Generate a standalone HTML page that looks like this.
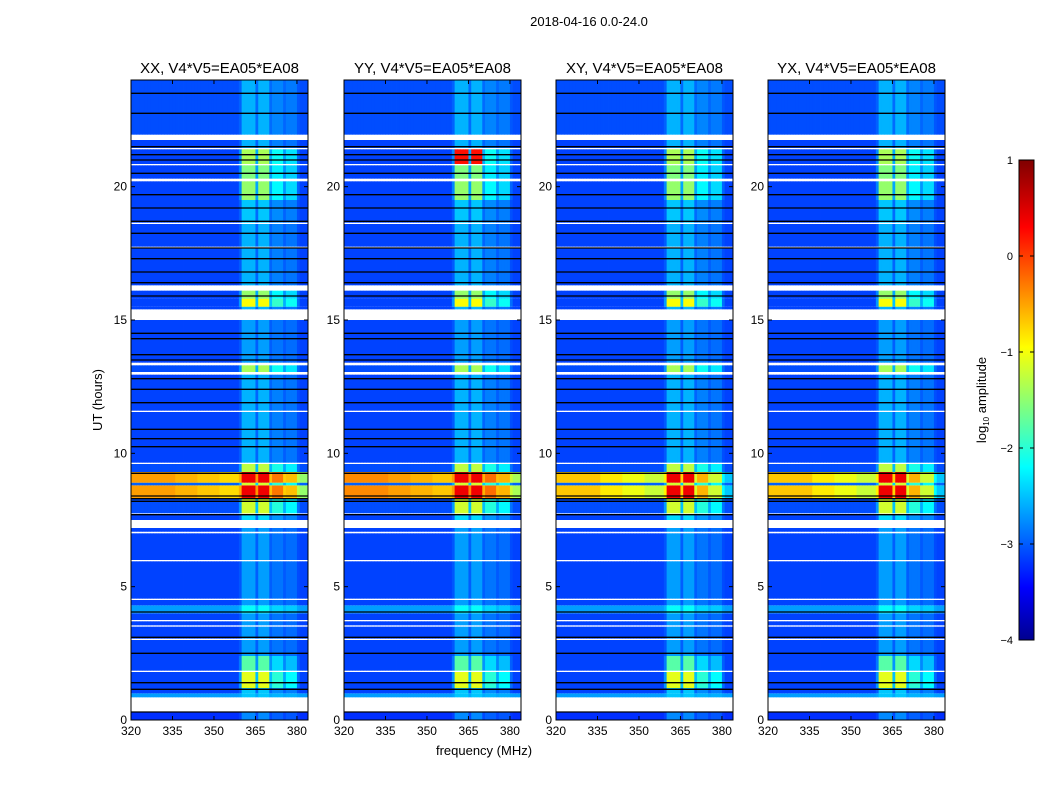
<!DOCTYPE html>
<html><head><meta charset="utf-8"><style>
body{margin:0;background:#fff;}
svg{display:block;font-family:"Liberation Sans",sans-serif;}
</style></head><body>
<svg id="fig" width="1050" height="800" viewBox="0 0 1050 800">
<defs>
<linearGradient id="jetg" x1="0" y1="1" x2="0" y2="0">
<stop offset="0" stop-color="#00008f"/><stop offset="0.11" stop-color="#0000ff"/>
<stop offset="0.36" stop-color="#00ffff"/><stop offset="0.61" stop-color="#ffff00"/>
<stop offset="0.86" stop-color="#ff0000"/><stop offset="1" stop-color="#800000"/>
</linearGradient>
</defs>
<rect width="1050" height="800" fill="#fff"/>
<text x="589" y="26" text-anchor="middle" font-size="13">2018-04-16 0.0-24.0</text>
<text x="484" y="755" text-anchor="middle" font-size="13">frequency (MHz)</text>
<text transform="translate(102,400) rotate(-90)" text-anchor="middle" font-size="13">UT (hours)</text>
<g id="panels"></g>
<g>
<rect x="1019" y="160" width="15" height="480" fill="url(#jetg)" stroke="#000" stroke-width="1"/>
<g id="cbticks"></g>
<text transform="translate(986,400) rotate(-90)" text-anchor="middle" font-size="13">log<tspan font-size="8" dy="3">10</tspan><tspan dy="-3"> amplitude</tspan></text>
</g>
</svg>
<script>
// ---- data ----
const panelTitles = ["XX, V4*V5=EA05*EA08","YY, V4*V5=EA05*EA08","XY, V4*V5=EA05*EA08","YX, V4*V5=EA05*EA08"];
const panelLefts = [131,344,556,768];
const xTicks = [320,335,350,365,380];
const yTicks = [0,5,10,15,20];
const cbTicks = [1,0,-1,-2,-3,-4];
// channel band weight, 1 MHz channels 320..383
const chanWeight = [0,0,0,0,0,0,0,0,0,0,0,0,0,0,0,0,0,0,0,0,
  0,0,0,0,0,0,0,0,0,0,0,0,0,0,0,0,0,0,0,0.2,
  1,1,1,1,1,0.3,1,1,1,1,0.3,0.55,0.55,0.55,0.55,0.25,0.45,0.45,0.45,0.45,0.1,0,0,0];
// RFI taper across 8-MHz groups
const rfiTaper = [0,0,-0.1,-0.2,-0.3,-0.3,-0.6,-1.0];
const rfiTaperScale = [1,1,1.8,1.8];
const rfiLevel = [-0.4,-0.3,-0.6,-0.6];
// time segments: start hour, end hour, background level (null = flagged), band level, rfi flag
const segStart = [0,0.3,0.85,1.0,1.2,1.8,1.85,2.4,3.0,3.05,3.5,3.55,3.7,3.75,4.0,4.3,4.5,4.55,5.95,6.0,7.0,7.06,7.2,7.5,7.7,7.75,8.3,8.8,8.9,9.3,9.6,9.65,11.55,11.6,12.95,13.05,13.3,13.4,15.0,15.4,15.5,15.8,16.1,16.3,17.7,17.75,18.6,18.65,19.5,20.2,20.3,20.8,20.85,21.4,21.45,21.75,21.95];
const segEnd   = [0.3,0.85,1.0,1.2,1.8,1.85,2.4,3.0,3.05,3.5,3.55,3.7,3.75,4.0,4.3,4.5,4.55,5.95,6.0,7.0,7.06,7.2,7.5,7.7,7.75,8.3,8.8,8.9,9.3,9.6,9.65,11.55,11.6,12.95,13.05,13.3,13.4,15.0,15.4,15.5,15.8,16.1,16.3,17.7,17.75,18.6,18.65,19.5,20.2,20.3,20.8,20.85,21.4,21.45,21.75,21.95,24];
const segBg    = [-3.15,null,-2.6,-3.05,-3.05,null,-3.05,-3.05,null,-3.05,null,-3.05,null,-3.05,-2.6,-3.05,null,-3.05,null,-3.05,null,-3.05,null,-3.05,null,-3.0,-0.4,-2.9,-0.5,-3.0,null,-3.05,null,-3.05,null,-3.0,null,-3.05,null,-3.05,-3.05,-3.05,null,-3.05,null,-3.05,null,-3.05,-3.05,null,-3.05,null,-3.05,null,-3.05,null,-3.0];
const segBand  = [-2.7,null,-2.4,-2.4,-1.0,null,-1.7,-2.6,null,-2.6,null,-2.6,null,-2.6,-2.1,-2.6,null,-2.6,null,-2.6,null,-2.6,null,-2.3,null,-1.1,0.45,-1.1,0.45,-1.2,null,-2.5,null,-2.5,null,-1.3,null,-2.6,null,-2.5,-0.9,-1.4,null,-2.5,null,-2.5,null,-2.4,-1.4,null,-1.5,null,-1.3,null,-2.5,null,-2.5];
const segRfi   = [0,0,0,0,0,0,0,0,0,0,0,0,0,0,0,0,0,0,0,0,0,0,0,0,0,0,1,0,1,0,0,0,0,0,0,0,0,0,0,0,0,0,0,0,0,0,0,0,0,0,0,0,0,0,0,0,0];
const blackLines = [23.5,22.75,21.5,21.2,21.0,20.5,19.7,19.2,18.7,18.25,17.7,17.3,16.8,16.4,15.9,14.5,14.3,13.7,13.5,12.8,12.4,11.9,10.9,10.55,10.25,9.25,8.4,8.3,8.2,7.7,4.05,3.1,2.5,1.4,1.15,0.3];
const eventPanel = [1];
const eventH0 = [20.9];
const eventH1 = [21.2];
const eventLevel = [0.3];
// ---- helpers ----
const NS="http://www.w3.org/2000/svg";
const PW=177, PT=80, PB=720;
const xs=(left,f)=>left+(f-320)/64*PW;
const ys=h=>PB-h*(PB-PT)/24;
function jet(v){let t=(v+4)/5;t=Math.max(0,Math.min(1,t));
 const c=x=>Math.round(255*Math.max(0,Math.min(1,x)));
 return `rgb(${c(1.5-Math.abs(4*t-3))},${c(1.5-Math.abs(4*t-2))},${c(1.5-Math.abs(4*t-1))})`;}
function mk(tag,attrs,parent){const e=document.createElementNS(NS,tag);for(const k in attrs)e.setAttribute(k,attrs[k]);parent.appendChild(e);return e;}
const root=document.getElementById('panels');
panelLefts.forEach((L,p)=>{
 const g=mk('g',{},root);
 
 
 for(let s=0;s<segStart.length;s++){
  if(segBg[s]===null) continue;
  const y0=ys(segEnd[s]), y1=ys(segStart[s]);
  for(let c=0;c<64;c++){
   let v;
   if(segRfi[s]){ const base=rfiLevel[p]+rfiTaperScale[p]*rfiTaper[Math.floor(c/8)]; v=Math.max(base, base+chanWeight[c]*(segBand[s]-base)); }
   else v=segBg[s]+chanWeight[c]*(segBand[s]-segBg[s]);
   for(let e=0;e<eventPanel.length;e++){
    if(eventPanel[e]===p && segStart[s]<eventH1[e] && segEnd[s]>eventH0[e] && chanWeight[c]>=1) v=eventLevel[e];
   }
   const r=mk('rect',{x:xs(L,320+c).toFixed(2),y:y0.toFixed(2),width:(PW/64+0.4).toFixed(2),height:(y1-y0).toFixed(2),fill:jet(v)},g);
   
   
  }
 }
 blackLines.forEach(h=>{
  const l=mk('line',{x1:L,x2:L+PW,y1:ys(h),y2:ys(h),stroke:'#000','stroke-width':1.3},g);
  
  
 });
 const fr=mk('rect',{x:L,y:PT,width:PW,height:PB-PT,fill:'none',stroke:'#000','stroke-width':1},g);
 
 
 const t=mk('text',{x:L+PW/2,y:73,'text-anchor':'middle','font-size':15},g);
 t.textContent=panelTitles[p];
 
 
 xTicks.forEach(f=>{
  const x=xs(L,f);
  mk('line',{x1:x,x2:x,y1:PB,y2:PB-4,stroke:'#000'},g);
  mk('line',{x1:x,x2:x,y1:PT,y2:PT+4,stroke:'#000'},g);
  const tx=mk('text',{x:x,y:PB+15,'text-anchor':'middle','font-size':12},g);
  tx.textContent=f;
  
  
 });
 yTicks.forEach(h=>{
  const y=ys(h);
  mk('line',{x1:L,x2:L+4,y1:y,y2:y,stroke:'#000'},g);
  mk('line',{x1:L+PW,x2:L+PW-4,y1:y,y2:y,stroke:'#000'},g);
  const ty=mk('text',{x:L-4,y:y+4,'text-anchor':'end','font-size':12},g);
  ty.textContent=h;
  
  
 });
});
const cb=document.getElementById('cbticks');
cbTicks.forEach(v=>{
 const y=640-(v+4)/5*480;
 mk('line',{x1:1019,x2:1023,y1:y,y2:y,stroke:'#000'},cb);
 mk('line',{x1:1034,x2:1030,y1:y,y2:y,stroke:'#000'},cb);
 const t=mk('text',{x:1013,y:y+4,'text-anchor':'end','font-size':11},cb);
 t.textContent=v<0?'\u2212'+(-v):String(v);
 
 
});
</script>
</body></html>
